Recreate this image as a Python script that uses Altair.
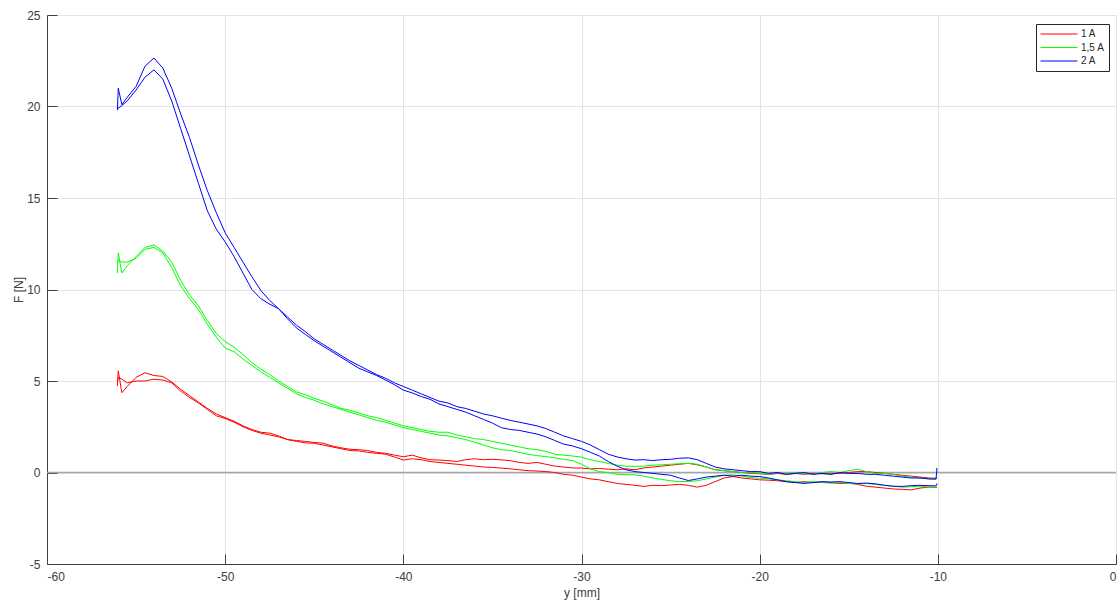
import altair as alt
import pandas as pd

# ---------------- data ----------------
x_ticks = [-60, -50, -40, -30, -20, -10, 0]
y_ticks = [-5, 0, 5, 10, 15, 20, 25]
series_names = ["1 A", "1,5 A", "2 A"]
series_colors = ["#ff0000", "#00ff00", "#0000ff"]

pos_mm = [-56.05, -56.0, -55.8, -55.5, -55.0, -54.5, -54.0, -53.5, -53.0, -52.5,
          -52.0, -51.5, -51.0, -50.5, -50.0, -49.5, -49.0, -48.5, -48.0, -47.5,
          -47.0, -46.5, -46.0, -45.5, -45.0, -44.5, -44.0, -43.5, -43.0, -42.5,
          -42.0, -41.5, -41.0, -40.5, -40.0, -39.5, -39.0, -38.5, -38.0, -37.5,
          -37.0, -36.5, -36.0, -35.5, -35.0, -34.5, -34.0, -33.5, -33.0, -32.5,
          -32.0, -31.5, -31.0, -30.5, -30.0, -29.5, -29.0, -28.5, -28.0, -27.5,
          -27.0, -26.5, -26.0, -25.5, -25.0, -24.5, -24.0, -23.5, -23.0, -22.5,
          -22.0, -21.5, -21.0, -20.5, -20.0, -19.5, -19.0, -18.5, -18.0, -17.5,
          -17.0, -16.5, -16.0, -15.5, -15.0, -14.5, -14.0, -13.5, -13.0, -12.5,
          -12.0, -11.5, -11.0, -10.5, -10.1, -10.05]

red_a = [4.73, 5.55, 4.36, 4.7, 5.2, 5.45, 5.3, 5.25, 4.95, 4.55,
         4.2, 3.85, 3.5, 3.2, 3.0, 2.8, 2.55, 2.35, 2.2, 2.15,
         2.0, 1.8, 1.75, 1.7, 1.64, 1.6, 1.45, 1.35, 1.27, 1.25,
         1.2, 1.1, 1.05, 0.95, 0.86, 0.95, 0.8, 0.7, 0.68, 0.65,
         0.6, 0.7, 0.75, 0.7, 0.72, 0.69, 0.65, 0.55, 0.5, 0.55,
         0.45, 0.35, 0.3, 0.25, 0.24, 0.2, 0.22, 0.18, 0.15, 0.2,
         0.15, 0.25, 0.3, 0.35, 0.4, 0.45, 0.5, 0.42, 0.3, 0.15,
         0.1, 0.05, 0.0, -0.05, -0.07, -0.1, -0.05, -0.1, -0.05, -0.1,
         -0.05, -0.07, -0.07, -0.05, 0.0, 0.05, 0.05, 0.0, -0.05, -0.1,
         -0.15, -0.2, -0.25, -0.3, -0.31, -0.3]
red_b = [5.0, 5.2, 5.1, 4.9, 5.0, 5.0, 5.1, 5.05, 4.9, 4.45,
         4.1, 3.8, 3.45, 3.1, 2.95, 2.75, 2.5, 2.3, 2.15, 2.05,
         1.95, 1.8, 1.7, 1.62, 1.6, 1.5, 1.4, 1.3, 1.2, 1.18,
         1.1, 1.05, 1.0, 0.85, 0.68, 0.75, 0.7, 0.6, 0.55, 0.5,
         0.45, 0.4, 0.35, 0.3, 0.28, 0.24, 0.2, 0.15, 0.1, 0.08,
         0.05, 0.0, -0.1, -0.15, -0.25, -0.35, -0.4, -0.5, -0.6, -0.65,
         -0.7, -0.76, -0.7, -0.72, -0.68, -0.65, -0.7, -0.8, -0.7, -0.5,
         -0.3, -0.22, -0.3, -0.35, -0.4, -0.42, -0.45, -0.5, -0.55, -0.5,
         -0.55, -0.52, -0.55, -0.6, -0.58, -0.65, -0.75, -0.8, -0.85, -0.9,
         -0.92, -0.95, -0.85, -0.8, -0.82, -0.8]
green_a = [10.9, 12.0, 10.9, 11.3, 11.8, 12.3, 12.43, 12.1, 11.5, 10.5,
           9.7, 9.1, 8.3, 7.6, 7.15, 6.85, 6.45, 6.0, 5.65, 5.35,
           5.0, 4.7, 4.4, 4.25, 4.05, 3.9, 3.7, 3.5, 3.4, 3.25,
           3.1, 3.0, 2.85, 2.7, 2.55, 2.45, 2.35, 2.25, 2.2, 2.2,
           2.05, 1.95, 1.85, 1.8, 1.7, 1.6, 1.5, 1.4, 1.3, 1.25,
           1.15, 1.0, 0.95, 0.9, 0.84, 0.7, 0.6, 0.5, 0.4, 0.35,
           0.33, 0.35, 0.4, 0.42, 0.45, 0.48, 0.5, 0.45, 0.3, 0.15,
           0.1, 0.05, 0.0, -0.02, -0.04, -0.1, 0.0, -0.05, 0.0, -0.05,
           -0.1, 0.0, 0.05, 0.0, 0.1, 0.18, 0.05, -0.05, -0.05, -0.1,
           -0.2, -0.25, -0.3, -0.35, -0.36, -0.3]
green_b = [11.5, 11.6, 11.5, 11.5, 11.7, 12.2, 12.3, 12.0, 11.2, 10.2,
           9.5, 8.9, 8.1, 7.4, 6.8, 6.6, 6.2, 5.85, 5.5, 5.2,
           4.9, 4.6, 4.3, 4.1, 3.95, 3.75, 3.6, 3.45, 3.3, 3.15,
           3.0, 2.85, 2.75, 2.6, 2.45, 2.35, 2.25, 2.15, 2.05, 2.0,
           1.9, 1.8, 1.65, 1.5, 1.35, 1.25, 1.2, 1.1, 1.0, 0.92,
           0.87, 0.8, 0.72, 0.65, 0.45, 0.2, 0.05, 0.0, -0.1, -0.12,
           -0.13, -0.2, -0.3, -0.38, -0.45, -0.5, -0.49, -0.45, -0.35, -0.25,
           -0.15, -0.13, -0.2, -0.28, -0.31, -0.35, -0.4, -0.45, -0.5, -0.55,
           -0.5, -0.55, -0.58, -0.55, -0.6, -0.62, -0.6, -0.65, -0.7, -0.75,
           -0.8, -0.78, -0.75, -0.8, -0.8, -0.75]
blue_a = [19.8, 21.0, 20.1, 20.5, 21.1, 22.2, 22.65, 22.1, 21.0, 19.6,
          18.3, 16.8, 15.4, 14.2, 13.1, 12.3, 11.5, 10.7, 9.95, 9.4,
          8.95, 8.5, 8.05, 7.7, 7.3, 7.0, 6.7, 6.4, 6.1, 5.85,
          5.6, 5.35, 5.15, 4.9, 4.7, 4.5, 4.3, 4.1, 3.9, 3.8,
          3.6, 3.5, 3.35, 3.2, 3.1, 2.97, 2.85, 2.75, 2.65, 2.55,
          2.4, 2.2, 2.0, 1.85, 1.7, 1.5, 1.25, 1.0, 0.85, 0.75,
          0.68, 0.7, 0.65, 0.7, 0.72, 0.78, 0.8, 0.7, 0.5, 0.3,
          0.2, 0.15, 0.1, 0.05, 0.05, -0.05, 0.0, -0.1, -0.05, 0.0,
          -0.1, -0.05, -0.1, 0.0, -0.05, -0.05, -0.1, -0.1, -0.15, -0.2,
          -0.25, -0.3, -0.3, -0.35, -0.36, 0.25]
blue_b = [20.0, 19.9, 20.05, 20.3, 20.9, 21.6, 22.0, 21.5, 20.3, 18.8,
          17.3, 15.8, 14.3, 13.3, 12.6, 11.8, 10.9, 10.0, 9.5, 9.2,
          8.95, 8.4, 7.9, 7.55, 7.2, 6.9, 6.6, 6.3, 6.0, 5.7,
          5.5, 5.3, 5.05, 4.8, 4.5, 4.35, 4.15, 4.0, 3.75, 3.6,
          3.45, 3.3, 3.1, 2.9, 2.7, 2.45, 2.35, 2.3, 2.2, 2.1,
          1.95, 1.75, 1.55, 1.45, 1.3, 1.1, 0.9, 0.6, 0.35, 0.15,
          0.05, 0.0, -0.05, -0.1, -0.15, -0.3, -0.44, -0.35, -0.25, -0.2,
          -0.15, -0.2, -0.15, -0.2, -0.22, -0.3, -0.4, -0.5, -0.55, -0.6,
          -0.55, -0.5, -0.52, -0.5, -0.55, -0.6, -0.58, -0.62, -0.7, -0.75,
          -0.76, -0.72, -0.7, -0.72, -0.73, -0.6]

curves = [("1 A", "a", red_a), ("1 A", "b", red_b),
          ("1,5 A", "a", green_a), ("1,5 A", "b", green_b),
          ("2 A", "a", blue_a), ("2 A", "b", blue_b)]

rows = []
for name, sweep, vals in curves:
    for i, (xv, fv) in enumerate(zip(pos_mm, vals)):
        rows.append({"x": xv, "F": fv, "current": name, "sweep": name + sweep, "i": i})
df = pd.DataFrame(rows)

zero_df = pd.DataFrame({"x0": [x_ticks[0]], "x1": [x_ticks[-1]], "F": [0]})

# ---------------- styling ----------------
W, H = 1069, 549
FONT = "Liberation Sans"
AX = "#404040"
GRID = "#e3e3e3"
PLAIN = "'' + datum.value"

xscale = alt.Scale(domain=[x_ticks[0], x_ticks[-1]], nice=False, zero=False)
yscale = alt.Scale(domain=[y_ticks[0], y_ticks[-1]], nice=False, zero=False)

main_x = alt.Axis(orient="bottom", values=x_ticks, grid=True, gridColor=GRID, gridWidth=1,
                  domainColor=AX, tickSize=0, labelFont=FONT, labelFontSize=12, labelColor=AX,
                  labelPadding=7, labelExpr=PLAIN, title="y [mm]", titleFont=FONT,
                  titleFontSize=12, titleFontWeight="normal", titleColor=AX, titlePadding=5)
main_y = alt.Axis(orient="left", values=y_ticks, grid=True, gridColor=GRID, gridWidth=1,
                  domainColor=AX, tickSize=0, labelFont=FONT, labelFontSize=12, labelColor=AX,
                  labelPadding=7, labelExpr=PLAIN, title="F [N]", titleFont=FONT,
                  titleFontSize=12, titleFontWeight="normal", titleColor=AX, titlePadding=1)
inner_x = alt.Axis(orient="top", offset=-H, values=x_ticks, labels=False, domain=False,
                   grid=False, tickSize=10, tickColor=AX, title=None)
inner_y = alt.Axis(orient="right", offset=-W, values=y_ticks, labels=False, domain=False,
                   grid=False, tickSize=10, tickColor=AX, title=None)

zero_line = alt.Chart(zero_df).mark_rule(color="#a6a6a6", strokeWidth=1.5).encode(
    x=alt.X("x0:Q", scale=xscale, axis=inner_x),
    x2="x1:Q",
    y=alt.Y("F:Q", scale=yscale, axis=inner_y),
)

lines = alt.Chart(df).mark_line(strokeWidth=1).encode(
    x=alt.X("x:Q", scale=xscale, axis=main_x),
    y=alt.Y("F:Q", scale=yscale, axis=main_y),
    color=alt.Color("current:N",
                    scale=alt.Scale(domain=series_names, range=series_colors),
                    legend=alt.Legend(title=None, orient="none", legendX=989, legendY=9,
                                      symbolType="stroke", symbolSize=1369,
                                      symbolStrokeWidth=1, labelFont=FONT,
                                      labelFontSize=10, labelColor="#262626",
                                      strokeColor="#262626", fillColor="white",
                                      padding=4, labelOffset=3, clipHeight=12,
                                      rowPadding=1.5)),
    detail="sweep:N",
    order="i:Q",
)

chart = alt.layer(zero_line, lines).resolve_axis(x="independent", y="independent").properties(
    width=W, height=H,
    autosize=alt.AutoSizeParams(type="none"),
    padding={"left": 47, "top": 15, "right": 2, "bottom": 39},
    background="white",
).configure_view(stroke=None)

chart.save("out.html", embed_options={"renderer": "svg", "actions": False})
